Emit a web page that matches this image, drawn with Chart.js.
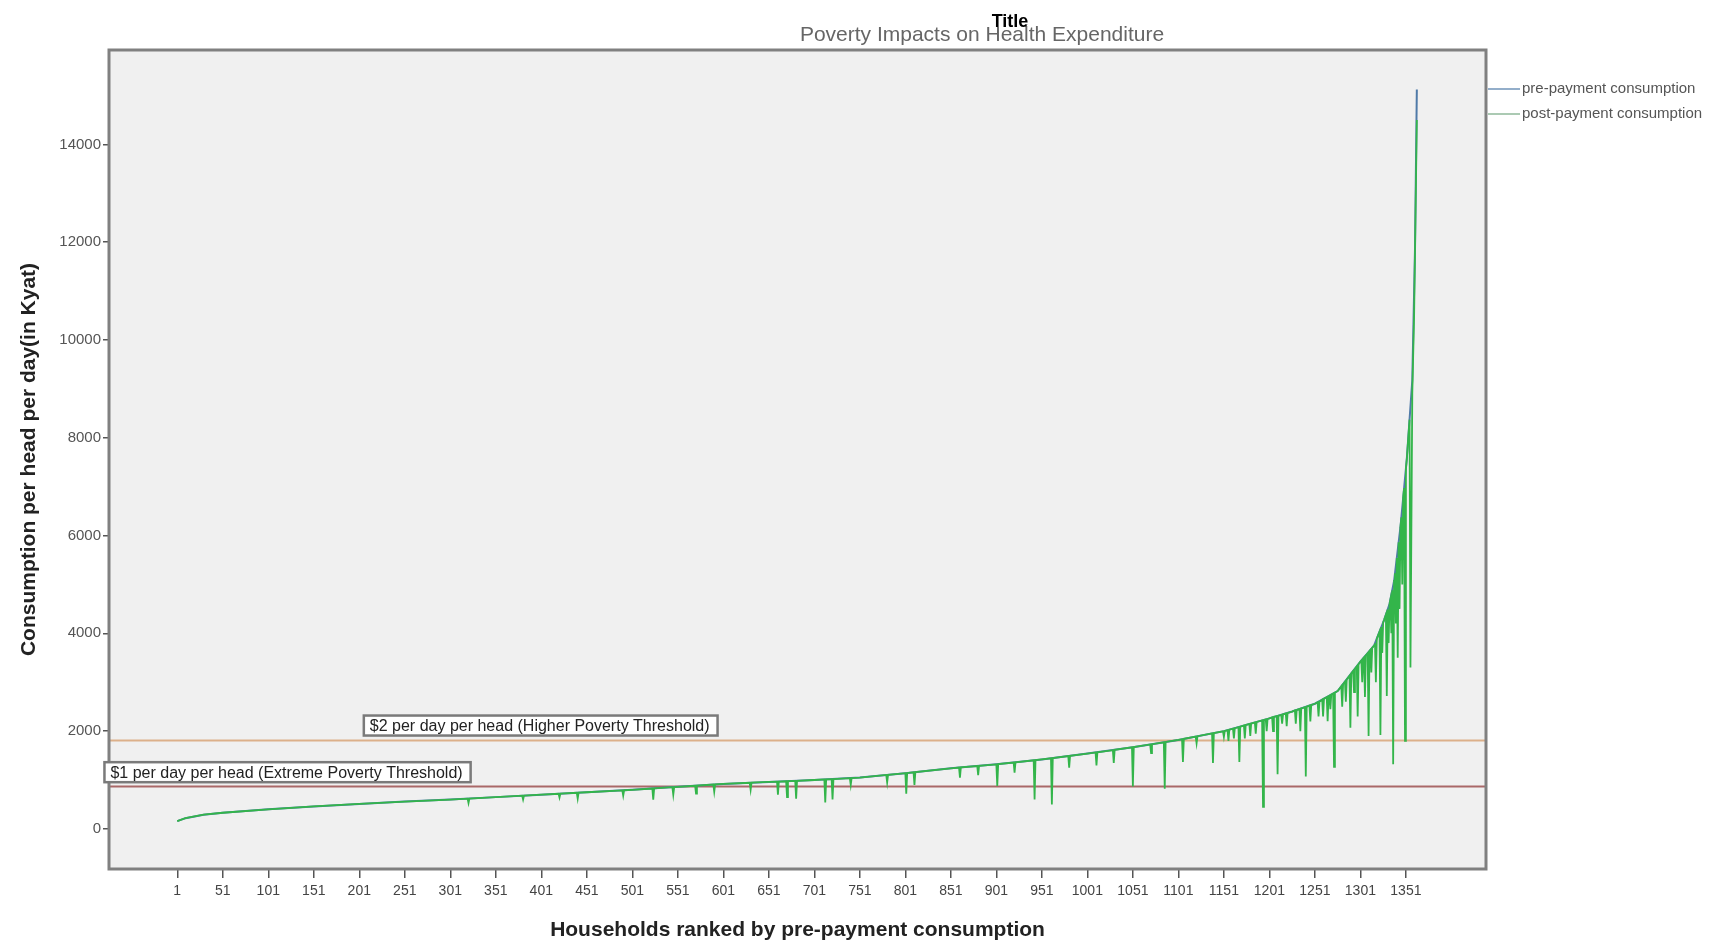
<!DOCTYPE html>
<html>
<head>
<meta charset="utf-8">
<script src="https://cdn.jsdelivr.net/npm/chart.js@4.4.1/dist/chart.umd.min.js"></script>
<style>
  html, body { margin: 0; padding: 0; background: #fff; }
  #wrap { width: 1733px; height: 943px; }
</style>
</head>
<body>
<div id="wrap"><canvas id="chart" width="1733" height="943"></canvas></div>
<script>
'use strict';

/* ---------- data ---------- */
const X_TICKS = [1, 51, 101, 151, 201, 251, 301, 351, 401, 451, 501, 551, 601, 651, 701,
  751, 801, 851, 901, 951, 1001, 1051, 1101, 1151, 1201, 1251, 1301, 1351];
const Y_TICKS = [0, 2000, 4000, 6000, 8000, 10000, 12000, 14000];

// pre-payment consumption (sorted, smooth curve)
const PRE_X = [1, 10, 30, 51, 101, 151, 201, 251, 301, 351, 401, 451, 501, 551, 601, 651, 701,
  751, 801, 851, 901, 951, 1001, 1051, 1101, 1151, 1201, 1226, 1251, 1276, 1291, 1301, 1316,
  1327, 1333, 1338, 1345, 1352, 1358, 1361, 1363];
const PRE_Y = [160, 220, 290, 330, 400, 460, 510, 560, 600, 650, 700, 750, 800, 860, 920, 960, 1000,
  1050, 1140, 1240, 1320, 1420, 1540, 1670, 1820, 2000, 2260, 2400, 2560, 2820, 3180, 3420, 3750,
  4270, 4600, 5070, 6170, 7570, 9170, 11870, 15120];

// post-payment consumption (follows the curve, drops where health spending hits)
const POST_X = [1, 10, 30, 51, 101, 151, 201, 251, 301, 320, 321, 322, 351, 380, 381, 382, 401,
  420, 421, 422, 440, 441, 442, 451, 490, 491, 492, 501, 523, 524, 525, 545, 546, 547, 551,
  570, 571, 572, 590, 591, 592, 601, 630, 631, 632, 651, 660, 661, 662, 670, 671, 672, 680,
  681, 682, 701, 712, 713, 714, 720, 721, 722, 740, 741, 742, 751, 780, 781, 782, 801, 802,
  803, 810, 811, 812, 851, 860, 861, 862, 880, 881, 882, 901, 902, 903, 920, 921, 922, 942,
  943, 944, 951, 961, 962, 963, 980, 981, 982, 1001, 1010, 1011, 1012, 1029, 1030, 1031,
  1050, 1051, 1052, 1070, 1071, 1072, 1085, 1086, 1087, 1101, 1105, 1106, 1107, 1120, 1121,
  1122, 1138, 1139, 1140,
  1150, 1151, 1152, 1155, 1156, 1157, 1161, 1162, 1163, 1167, 1168, 1169, 1173, 1174, 1175,
  1179, 1180, 1181, 1185, 1186, 1187, 1193, 1194, 1195, 1197, 1198, 1199, 1201,
  1204, 1205, 1206, 1209, 1210, 1211, 1214, 1215, 1216, 1219, 1220, 1221, 1226,
  1229, 1230, 1231, 1234, 1235, 1236, 1240, 1241, 1242, 1245, 1246, 1247, 1251,
  1254, 1255, 1256, 1259, 1260, 1261, 1264, 1265, 1266, 1267, 1268, 1269, 1271, 1272, 1273, 1276,
  1280, 1281, 1282, 1284, 1285, 1286, 1289, 1290, 1291, 1293, 1294, 1295, 1297, 1298, 1299, 1301,
  1302, 1303, 1304, 1305, 1306, 1307, 1309, 1310, 1311, 1312, 1313, 1314, 1316,
  1317, 1318, 1319, 1322, 1323, 1324, 1325, 1326, 1327, 1329, 1330, 1331, 1332, 1333,
  1334, 1335, 1336, 1337, 1338, 1339, 1340, 1341, 1342, 1343, 1344, 1345,
  1346, 1347, 1348, 1349, 1350, 1351, 1352, 1355, 1356, 1358, 1360, 1363];
const POST_Y = [160, 220, 290, 330, 400, 460, 510, 560, 600, 618, 530, 622, 650, 679, 600, 681, 700,
  719, 640, 721, 739, 620, 741, 750, 789, 680, 791, 800, 826, 600, 829, 853, 700, 856, 860,
  883, 720, 886, 908, 760, 911, 920, 943, 800, 946, 960, 967, 700, 969, 975, 650, 977, 983,
  620, 985, 1000, 1011, 540, 1013, 1019, 600, 1021, 1039, 900, 1041, 1050, 1103, 950, 1107, 1140, 720,
  1144, 1158, 900, 1162, 1240, 1254, 1050, 1258, 1286, 1100, 1290, 1320, 880, 1324, 1358, 1150, 1362, 1402,
  600, 1406, 1420, 1444, 500, 1450, 1490, 1250, 1494, 1540, 1563, 1300, 1566, 1610, 1350, 1618,
  1667, 870, 1673, 1727, 1550, 1733, 1772, 820, 1778, 1820, 1834, 1370, 1842, 1888, 1750,
  1896, 1953, 1350, 1960,
  1996, 1880, 2005, 2021, 1800, 2031, 2052, 1850, 2062, 2083, 1370, 2093, 2114, 1850, 2125,
  2145, 1900, 2155, 2177, 1950, 2187, 2218, 450, 2228, 2239, 2000, 2250, 2260,
  2282, 2000, 2294, 2305, 1120, 2316, 2333, 2150, 2344, 2360, 2100, 2372, 2400,
  2426, 2150, 2432, 2451, 2000, 2464, 2490, 1070, 2502, 2522, 2200, 2534, 2560,
  2591, 2300, 2601, 2643, 2300, 2664, 2695, 2200, 2716, 2726, 2450, 2747, 2768, 1270, 2788, 2820,
  2916, 2500, 2964, 3012, 2600, 3060, 3132, 2070, 3180, 3228, 2800, 3276, 3324, 2300, 3372, 3420,
  3442, 3000, 3486, 3508, 2700, 3552, 3596, 1900, 3640, 3662, 3200, 3706, 3750,
  3797, 3000, 3892, 4033, 1920, 4127, 3600, 4222, 4270, 4380, 2720, 4490, 3800, 4600,
  4694, 4000, 4880, 1320, 5070, 5227, 4200, 5540, 3500, 5860, 4500, 6170,
  6370, 5000, 6770, 6970, 1800, 7370, 7570, 8370, 3300, 8900, 10500, 14500];

const THRESHOLD_VALUES = [1820, 870];
const THRESHOLD_LABELS = ['$2 per day per head (Higher Poverty Threshold)',
  '$1 per day per head (Extreme Poverty Threshold)'];

const COLOR_PRE = '#4f7aa8';
const COLOR_POST = '#33b54a';
const THRESHOLD_COLORS = ['#dcb08a', '#a96868'];

Chart.defaults.font.family = '"Liberation Sans", Arial, sans-serif';

/* 背景・枠・閾値線・ラベル・凡例・タイトル */
const decor = {
  id: 'decor',
  beforeDraw(chart) {
    const { ctx, chartArea: a } = chart;
    ctx.save();
    ctx.fillStyle = '#f0f0f0';
    ctx.fillRect(a.left, a.top, a.right - a.left, a.bottom - a.top);
    ctx.restore();
  },
  beforeDatasetsDraw(chart) {
    const { ctx, chartArea: a, scales: { y } } = chart;
    ctx.save();
    THRESHOLD_VALUES.forEach((v, i) => {
      const py = Math.round(y.getPixelForValue(v)) + 0.5;
      ctx.strokeStyle = THRESHOLD_COLORS[i];
      ctx.lineWidth = 2;
      ctx.beginPath();
      ctx.moveTo(a.left, py);
      ctx.lineTo(a.right, py);
      ctx.stroke();
    });
    ctx.restore();
  },
  afterDraw(chart, args, opts) {
    const { ctx, chartArea: a, scales: { x, y } } = chart;
    ctx.save();
    // plot border
    ctx.strokeStyle = '#808080';
    ctx.lineWidth = 3;
    ctx.strokeRect(a.left, a.top, a.right - a.left, a.bottom - a.top);

    // threshold labels
    ctx.font = '16px "Liberation Sans", Arial, sans-serif';
    ctx.textBaseline = 'middle';
    ctx.textAlign = 'left';
    opts.labelAnchors.forEach((an, i) => {
      const lx = x.getPixelForValue(an[0]);
      const cy = y.getPixelForValue(an[1]);
      const w = ctx.measureText(THRESHOLD_LABELS[i]).width + 14;
      ctx.fillStyle = '#ffffff';
      ctx.fillRect(lx, cy - 10, w, 20);
      ctx.strokeStyle = '#7a7a7a';
      ctx.lineWidth = 2.5;
      ctx.strokeRect(lx, cy - 10, w, 20);
      ctx.fillStyle = '#222';
      ctx.fillText(THRESHOLD_LABELS[i], lx + 6, cy + 1);
    });

    // legend (outside the plot, top right)
    const items = chart.data.datasets;
    ctx.font = '15px "Liberation Sans", Arial, sans-serif';
    items.forEach((ds, i) => {
      const ly = a.top + 39 + i * 25;
      ctx.strokeStyle = i === 0 ? '#6f93b8' : '#8fb89a';
      ctx.lineWidth = 1.5;
      ctx.beginPath();
      ctx.moveTo(a.right + 2, ly);
      ctx.lineTo(a.right + 34, ly);
      ctx.stroke();
      ctx.fillStyle = '#555';
      ctx.fillText(ds.label, a.right + 36, ly);
    });

    // titles (overlapping as in the original)
    ctx.textAlign = 'center';
    ctx.fillStyle = '#666';
    ctx.font = '21px "Liberation Sans", Arial, sans-serif';
    ctx.fillText('Poverty Impacts on Health Expenditure', 982, 35);
    ctx.fillStyle = '#000';
    ctx.font = 'bold 18px "Liberation Sans", Arial, sans-serif';
    ctx.fillText('Title', 1010, 22);
    ctx.restore();
  },
};

new Chart(document.getElementById('chart'), {
  type: 'line',
  data: {
    datasets: [{
      label: 'pre-payment consumption',
      data: PRE_X.map((v, i) => ({ x: v, y: PRE_Y[i] })),
      borderColor: COLOR_PRE,
      borderWidth: 2,
      pointRadius: 0,
      tension: 0,
      order: 1,
    }, {
      label: 'post-payment consumption',
      data: POST_X.map((v, i) => ({ x: v, y: POST_Y[i] })),
      borderColor: COLOR_POST,
      borderWidth: 1.8,
      pointRadius: 0,
      tension: 0,
      order: 0,
    }],
  },
  options: {
    responsive: false,
    animation: false,
    devicePixelRatio: 1,
    layout: { padding: { left: 0, top: 50, right: 247, bottom: 0 } },
    plugins: {
      legend: { display: false },
      tooltip: { enabled: false },
      decor: { labelAnchors: [[206, 2114], [-79, 1160]] },
    },
    scales: {
      x: {
        type: 'linear',
        min: -74,
        max: 1439,
        afterBuildTicks: (s) => { s.ticks = X_TICKS.map((v) => ({ value: v })); },
        afterFit: (s) => { s.height = 74; },
        border: { display: false },
        grid: { drawOnChartArea: false, drawTicks: true, tickLength: 9, color: '#555', lineWidth: 1.5 },
        ticks: { color: '#444', font: { size: 14 }, padding: 5, maxRotation: 0, autoSkip: false,
          callback: (v) => String(v) },
        title: {
          display: true,
          text: 'Households ranked by pre-payment consumption',
          color: '#222',
          font: { size: 21, weight: 'bold' },
          padding: { top: 0, bottom: 0 },
        },
      },
      y: {
        min: -820,
        max: 15930,
        afterBuildTicks: (s) => { s.ticks = Y_TICKS.map((v) => ({ value: v })); },
        afterFit: (s) => { s.width = 109; },
        border: { display: false },
        grid: { drawOnChartArea: false, drawTicks: true, tickLength: 6, color: '#555', lineWidth: 1.5 },
        ticks: { color: '#555', font: { size: 15 }, padding: 2, callback: (v) => String(v) },
        title: {
          display: true,
          text: 'Consumption per head per day(in Kyat)',
          color: '#222',
          font: { size: 21, weight: 'bold' },
          padding: { top: 17, bottom: 0 },
        },
      },
    },
  },
  plugins: [decor],
});
</script>
</body>
</html>
